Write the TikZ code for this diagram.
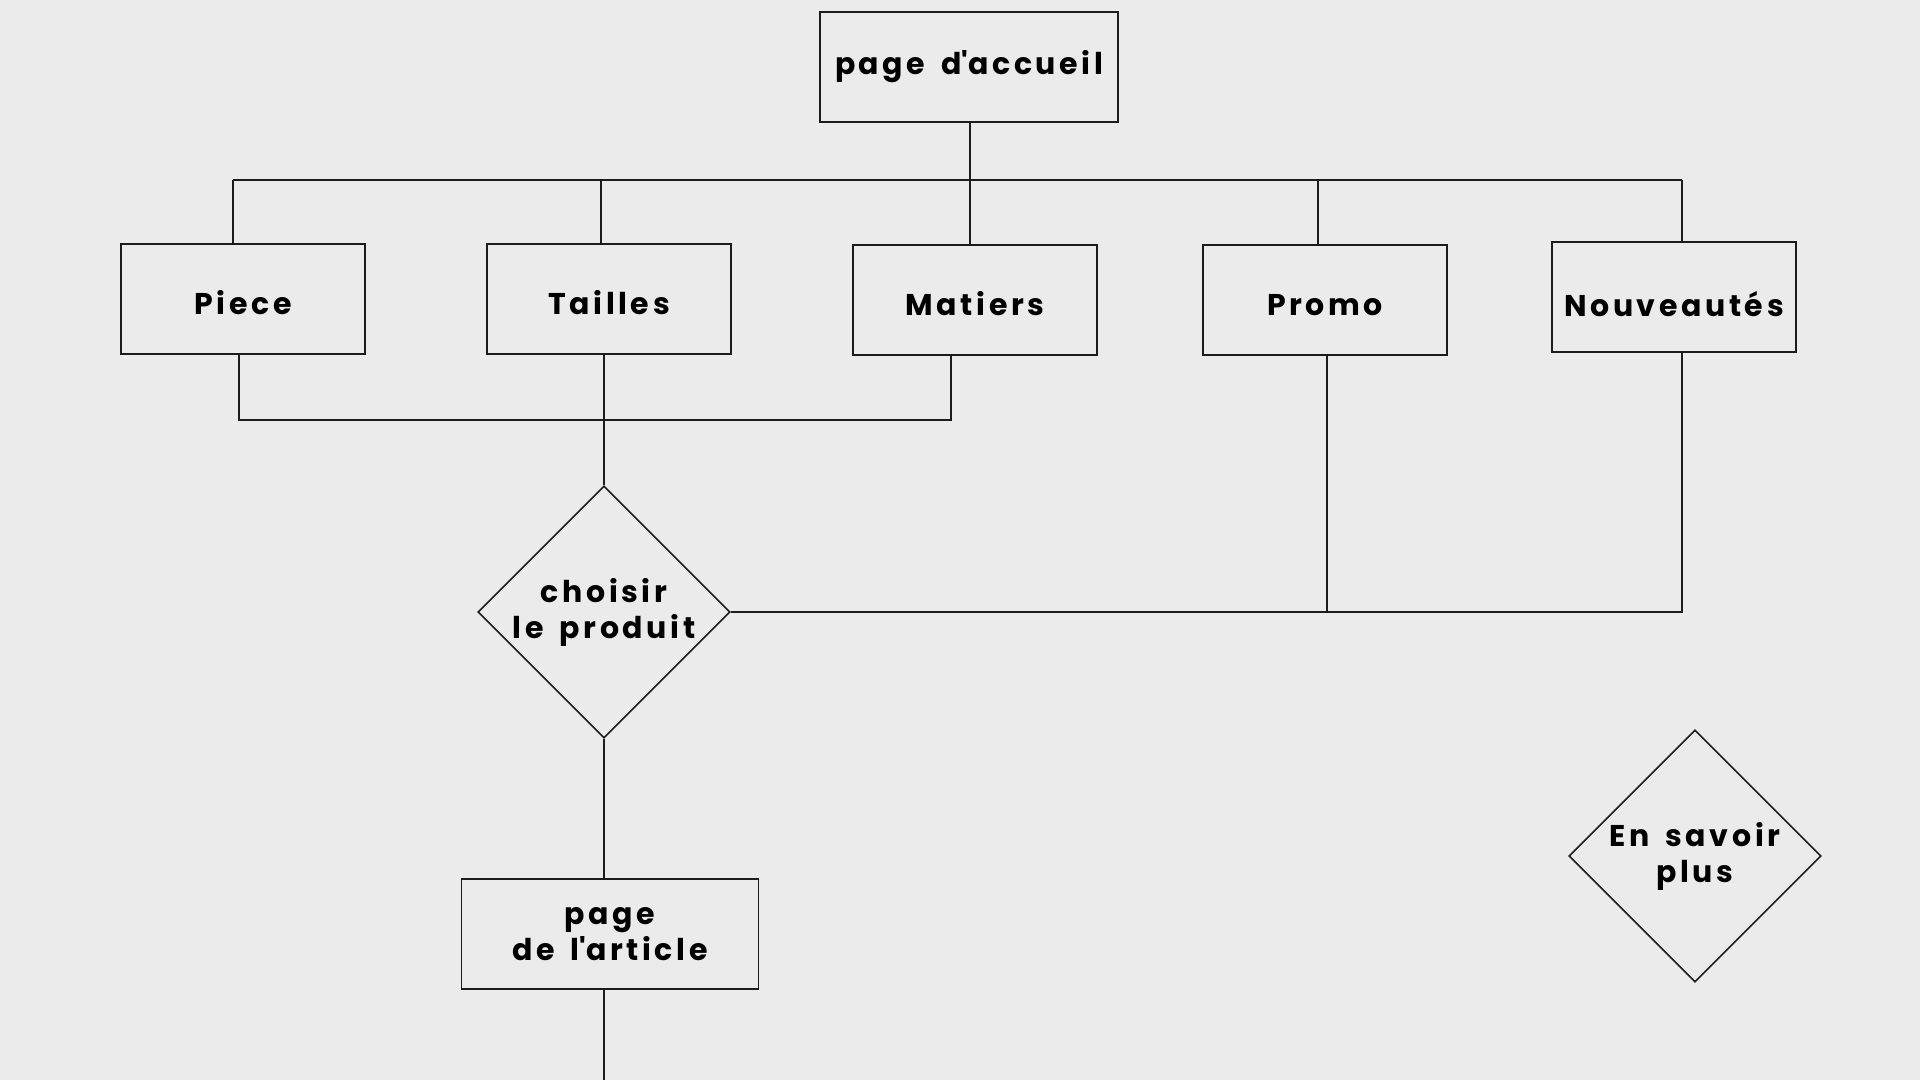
\documentclass[tikz,border=0pt]{standalone}
\usepackage{fontspec}
\setmainfont{Poppins}[LetterSpace=12, WordSpace=1.6]
\usetikzlibrary{shapes.geometric}
\definecolor{bg}{HTML}{EBEBEB}
\definecolor{ln}{HTML}{1C1C1C}
\tikzset{
  lbl/.style={font=\bfseries\fontsize{30}{36}\selectfont, text=black, align=center},
  box/.style={lbl, draw=ln, line width=1.6pt, minimum width=244pt, minimum height=110pt, inner sep=0pt},
  catbox/.style={box, text height=31pt, text depth=0pt},
  dia/.style={lbl, diamond, draw=ln, line width=1.6pt, minimum width=252pt, minimum height=252pt, inner sep=0pt, aspect=1},
  wire/.style={draw=ln, line width=1.6pt}
}
\begin{document}
\begin{tikzpicture}[x=1pt,y=-1pt]
\path[fill=bg] (0,0) rectangle (1920,1080);
\useasboundingbox (0,0) rectangle (1920,1080);

\node[box, minimum width=298pt] (home) at (969,67) {page d\textquotesingle accueil};
\node[catbox] (piece) at (243,299) {Piece};
\node[catbox] (tailles) at (609,299) {Tailles};
\node[catbox] (matiers) at (975,300) {Matiers};
\node[catbox] (promo) at (1325,300) {Promo};
\node[catbox, text height=38pt] (nouv) at (1674,297) {Nouveautés};
\node[dia] (choix) at (604,612) {choisir\\le produit};
\node[box, minimum width=297pt] (article) at (610,934) {page\\de l\textquotesingle article};
\node[dia] (savoir) at (1695,856) {En savoir\\plus};

\coordinate (busL) at (233,180);
\coordinate (busR) at (1682,180);
\coordinate (bHome) at (970,180);
\coordinate (bTailles) at (601,180);
\coordinate (bMatiers) at (970,180);
\coordinate (bPromo) at (1318,180);
\coordinate (jL) at (239,420);
\coordinate (jR) at (951,420);
\coordinate (rPromo) at (1327,612);
\coordinate (rNouv) at (1682,612);
\coordinate (endA) at (604,1080);

\path[wire] (home.south -| bHome) -- (bHome);
\path[wire] (busL) -- (busR);
\path[wire] (busL) -- (busL |- piece.north);
\path[wire] (bTailles) -- (bTailles |- tailles.north);
\path[wire] (bMatiers) -- (bMatiers |- matiers.north);
\path[wire] (bPromo) -- (bPromo |- promo.north);
\path[wire] (busR) -- (busR |- nouv.north);

\path[wire] (jL |- piece.south) -- (jL) -- (jR) -- (jR |- matiers.south);
\path[wire] (choix.north |- tailles.south) -- (choix.north);

\path[wire] (choix.east) -- (rNouv) -- (rNouv |- nouv.south);
\path[wire] (rPromo |- promo.south) -- (rPromo);

\path[wire] (choix.south) -- (choix.south |- article.north);
\path[wire] (endA |- article.south) -- (endA);
\end{tikzpicture}
\end{document}
